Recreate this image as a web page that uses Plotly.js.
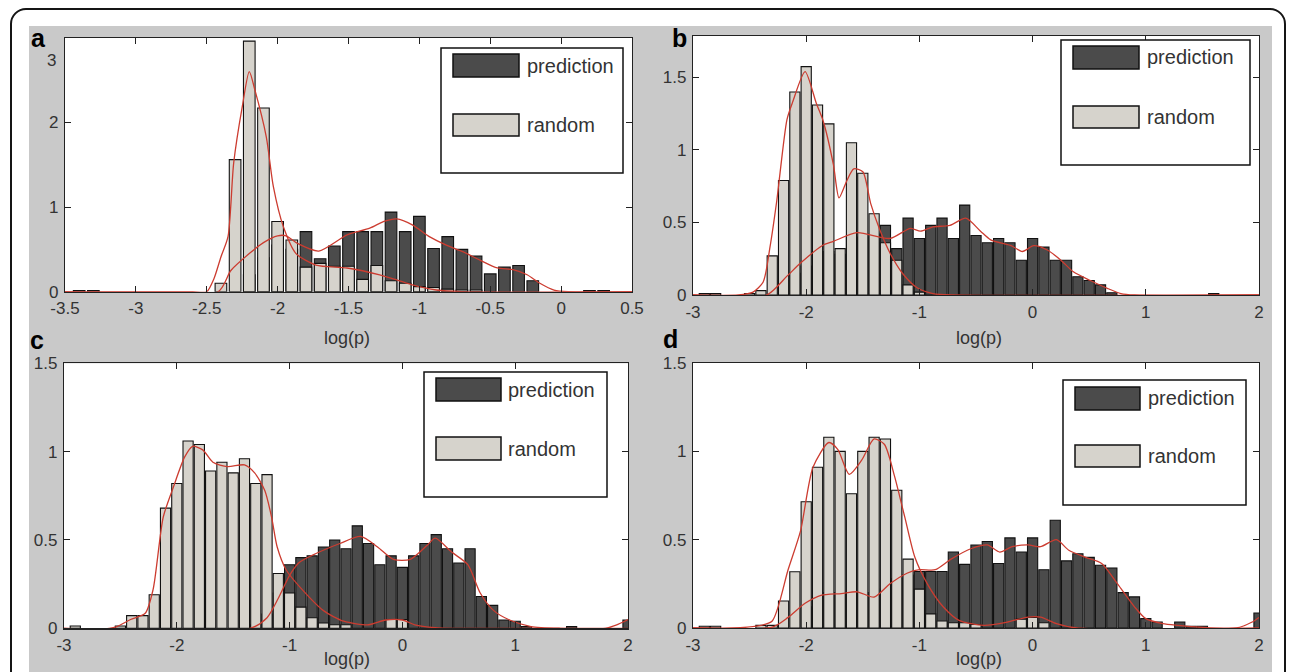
<!DOCTYPE html>
<html>
<head>
<meta charset="utf-8">
<script src="https://cdn.plot.ly/plotly-3.0.1.min.js"></script>
<style>
  html, body { margin:0; padding:0; width:1290px; height:672px; overflow:hidden; background:#ffffff; }
  #frame { position:absolute; left:10px; top:8px; width:1272px; height:700px; border:2px solid #151515; border-radius:16px; }
  #gray { position:absolute; left:29px; top:26px; width:1243px; height:646px; background:#c9c9c9; }
  #plot { position:absolute; left:0; top:0; width:1290px; height:672px; }
</style>
</head>
<body>
<div id="frame"></div>
<div id="gray"></div>
<div id="plot"></div>
<script>
// ---------------- DATA ----------------
const seriesNames = ["prediction", "random"];
const xLabel = "log(p)";
const panelLetters = ["a", "b", "c", "d"];

// x tick labels
const xTicksA = [-3.5, -3, -2.5, -2, -1.5, -1, -0.5, 0, 0.5];
const xTickTextA = ["-3.5", "-3", "-2.5", "-2", "-1.5", "-1", "-0.5", "0", "0.5"];
const xTicksBCD = [-3, -2, -1, 0, 1, 2];
const xTickTextBCD = ["-3", "-2", "-1", "0", "1", "2"];
// y tick labels
const yTicksA = [0, 1, 2];
const yTickTextA = ["0", "1", "2"];
const yTopLabelA = "3";
const yTicksBCD = [0, 0.5, 1, 1.5];
const yTickTextBCD = ["0", "0.5", "1", "1.5"];

// Panel a histograms
const aRandX = [-3.4,-3.3,-2.4,-2.3,-2.2,-2.1,-2.0,-1.9,-1.8,-1.7,-1.6,-1.5,-1.4,-1.3,-1.2,-1.1,-1.0,-0.9,-0.8,-0.7,-0.6];
const aRandY = [0.015,0.015,0.10,1.56,2.96,2.17,0.83,0.61,0.29,0.335,0.30,0.30,0.146,0.31,0.13,0.10,0.06,0.05,0.03,0.02,0.02];
const aPredX = [-2.2,-2.1,-2.0,-1.9,-1.8,-1.7,-1.6,-1.5,-1.4,-1.3,-1.2,-1.1,-1.0,-0.9,-0.8,-0.7,-0.6,-0.5,-0.4,-0.3,-0.2,0.2,0.3];
const aPredY = [0.2,0.4,0.55,0.5,0.71,0.39,0.54,0.71,0.71,0.71,0.94,0.71,0.89,0.51,0.65,0.50,0.42,0.21,0.29,0.31,0.13,0.015,0.015];
// Panel a density curves
const aRandCurveX = [-3.5,-2.6,-2.5,-2.45,-2.40,-2.35,-2.31,-2.25,-2.20,-2.16,-2.08,-2.03,-1.96,-1.87,-1.73,-1.51,-1.28,-1.16,-1.05,-0.88,-0.7,0.5];
const aRandCurveY = [0,0,0,0.15,0.41,0.65,1.52,2.18,2.60,2.38,1.83,1.24,0.77,0.45,0.315,0.28,0.2,0.14,0.08,0.02,0,0];
const aPredCurveX = [-3.5,-2.42,-2.33,-2.2,-2.1,-2.0,-1.94,-1.86,-1.71,-1.51,-1.35,-1.25,-1.16,-1.05,-0.93,-0.81,-0.69,-0.57,-0.45,-0.34,-0.24,-0.15,-0.05,0.05,0.5];
const aPredCurveY = [0,0,0.25,0.45,0.58,0.66,0.66,0.57,0.48,0.67,0.75,0.83,0.86,0.79,0.65,0.55,0.47,0.37,0.28,0.26,0.20,0.10,0.02,0,0];

// Panel b histograms
const bRandX = [-2.9,-2.8,-2.5,-2.4,-2.3,-2.2,-2.1,-2.0,-1.9,-1.8,-1.7,-1.6,-1.5,-1.4,-1.3,-1.2,-1.1,-1.0];
const bRandY = [0.01,0.01,0.01,0.03,0.27,0.79,1.40,1.575,1.31,1.18,0.32,1.05,0.84,0.56,0.36,0.24,0.07,0.02];
const bPredX = [-2.2,-2.1,-2.0,-1.9,-1.8,-1.7,-1.6,-1.5,-1.4,-1.3,-1.2,-1.1,-1.0,-0.9,-0.8,-0.7,-0.6,-0.5,-0.4,-0.3,-0.2,-0.1,0.0,0.1,0.2,0.3,0.4,0.5,0.6,0.7,1.6];
const bPredY = [0.1,0.15,0.2,0.3,0.3,0.28,0.4,0.4,0.42,0.48,0.32,0.53,0.39,0.48,0.53,0.39,0.62,0.41,0.36,0.39,0.36,0.24,0.39,0.33,0.24,0.24,0.126,0.10,0.07,0.016,0.01];
// Panel b density curves
const bRandCurveX = [-3,-2.6,-2.47,-2.38,-2.32,-2.26,-2.17,-2.12,-2.01,-1.91,-1.85,-1.76,-1.71,-1.64,-1.58,-1.50,-1.43,-1.35,-1.26,-1.15,-1.02,-0.88,-0.7,2];
const bRandCurveY = [0,0,0.02,0.09,0.33,0.65,1.21,1.33,1.54,1.32,1.20,0.90,0.67,0.79,0.87,0.85,0.63,0.45,0.29,0.15,0.05,0.01,0,0];
const bPredCurveX = [-3,-2.35,-2.17,-2.05,-1.86,-1.76,-1.55,-1.26,-1.08,-0.99,-0.88,-0.73,-0.59,-0.46,-0.37,-0.19,-0.09,0.01,0.13,0.25,0.36,0.51,0.66,0.78,0.9,2];
const bPredCurveY = [0,0,0.13,0.22,0.34,0.37,0.43,0.39,0.46,0.44,0.47,0.48,0.53,0.44,0.38,0.34,0.30,0.34,0.31,0.24,0.16,0.10,0.046,0.01,0,0];

// Panel c histograms
const cRandX = [-2.9,-2.5,-2.4,-2.3,-2.2,-2.1,-2.0,-1.9,-1.8,-1.7,-1.6,-1.5,-1.4,-1.3,-1.2,-1.1,-1.0,-0.9,-0.8,-0.7,-0.6,-0.5,-0.1,0.0];
const cRandY = [0.013,0.013,0.072,0.072,0.19,0.68,0.82,1.06,1.04,0.89,0.94,0.88,0.96,0.82,0.87,0.31,0.20,0.12,0.06,0.03,0.02,0.02,0.05,0.05];
const cPredX = [-1.3,-1.2,-1.1,-1.0,-0.9,-0.8,-0.7,-0.6,-0.5,-0.4,-0.3,-0.2,-0.1,0.0,0.1,0.2,0.3,0.4,0.5,0.6,0.7,0.8,0.9,1.0,1.1,1.5,2.0];
const cPredY = [0.02,0.08,0.2,0.36,0.40,0.41,0.46,0.50,0.45,0.58,0.48,0.36,0.41,0.345,0.41,0.48,0.53,0.45,0.37,0.45,0.18,0.13,0.047,0.04,0.01,0.01,0.047];
// Panel c density curves
const cRandCurveX = [-3,-2.6,-2.53,-2.41,-2.28,-2.21,-2.12,-2.03,-1.93,-1.86,-1.77,-1.68,-1.55,-1.40,-1.31,-1.22,-1.16,-1.11,-1.03,-0.89,-0.70,-0.52,-0.30,-0.15,0.0,0.11,0.29,0.45,2];
const cRandCurveY = [0,0,0.01,0.05,0.085,0.22,0.63,0.80,0.97,1.03,1.01,0.94,0.915,0.925,0.88,0.78,0.63,0.46,0.33,0.22,0.10,0.04,0.02,0.047,0.047,0.02,0.004,0,0];
const cPredCurveX = [-3,-1.35,-1.2,-1.1,-1.0,-0.92,-0.81,-0.555,-0.37,-0.22,-0.08,0.07,0.22,0.29,0.44,0.58,0.69,0.81,0.95,1.14,1.4,1.8,1.9,2.0];
const cPredCurveY = [0,0,0.06,0.17,0.30,0.37,0.41,0.48,0.52,0.46,0.39,0.39,0.47,0.51,0.43,0.36,0.20,0.10,0.047,0.01,0,0,0.02,0.05];

// Panel d histograms
const dRandX = [-2.9,-2.8,-2.4,-2.3,-2.2,-2.1,-2.0,-1.9,-1.8,-1.7,-1.6,-1.5,-1.4,-1.3,-1.2,-1.1,-1.0,-0.9,-0.8,-0.7,-0.6,-0.5,-0.1,0.0,0.1];
const dRandY = [0.01,0.01,0.015,0.015,0.153,0.318,0.715,0.91,1.08,1.0,0.76,1.0,1.08,1.07,0.78,0.39,0.22,0.08,0.04,0.03,0.03,0.02,0.05,0.06,0.03];
const dPredX = [-2.0,-1.9,-1.8,-1.7,-1.6,-1.5,-1.4,-1.3,-1.2,-1.1,-1.0,-0.9,-0.8,-0.7,-0.6,-0.5,-0.4,-0.3,-0.2,-0.1,0.0,0.1,0.2,0.3,0.4,0.5,0.6,0.7,0.8,0.9,1.0,1.1,1.3,1.4,1.5,2.0];
const dPredY = [0.12,0.18,0.2,0.2,0.2,0.2,0.2,0.22,0.28,0.3,0.32,0.32,0.32,0.43,0.36,0.47,0.49,0.365,0.51,0.43,0.51,0.33,0.61,0.38,0.42,0.40,0.355,0.34,0.20,0.176,0.053,0.034,0.034,0.01,0.01,0.085];
// Panel d density curves
const dRandCurveX = [-3,-2.66,-2.44,-2.30,-2.16,-2.05,-1.94,-1.80,-1.72,-1.62,-1.51,-1.40,-1.31,-1.22,-1.13,-1.04,-0.93,-0.79,-0.65,-0.43,-0.22,-0.04,0.07,0.21,0.39,2];
const dRandCurveY = [0,0,0.01,0.04,0.33,0.55,0.91,1.05,1.01,0.87,0.95,1.07,1.04,0.86,0.63,0.40,0.25,0.12,0.043,0.015,0.034,0.062,0.062,0.025,0,0];
const dPredCurveX = [-3,-2.3,-2.16,-2.01,-1.87,-1.69,-1.55,-1.40,-1.26,-1.11,-1.0,-0.86,-0.72,-0.54,-0.40,-0.29,-0.18,-0.04,0.07,0.21,0.32,0.47,0.61,0.75,0.90,1.0,1.15,1.29,1.47,1.80,1.94,2.0];
const dPredCurveY = [0,0.005,0.06,0.14,0.185,0.195,0.205,0.175,0.25,0.31,0.33,0.33,0.39,0.45,0.47,0.43,0.46,0.47,0.46,0.50,0.44,0.40,0.365,0.25,0.12,0.053,0.025,0.015,0.005,0,0.034,0.06];

// ---------------- STYLE / LAYOUT ----------------
const W = 1290, H = 672;
const FONT = "Liberation Sans, Arial, Helvetica, sans-serif";
const PRED_COLOR = "#4b4b4b";
const RAND_COLOR = "#d6d3cc";
const CURVE_COLOR = "#cc3c30";
const px = v => v / W;
const py = v => 1 - v / H;

const panels = [
  { key: "", box: [65, 37.7, 632, 291.7], xr: [-3.5, 0.5], yr: [0, 3], barW: 0.082,
    xt: xTicksA, xtt: xTickTextA, yt: yTicksA, ytt: yTickTextA,
    pred: [aPredX, aPredY], rand: [aRandX, aRandY],
    predC: [aPredCurveX, aPredCurveY], randC: [aRandCurveX, aRandCurveY],
    legend: { box: [441, 48, 623, 173], sw: [453, 519], r1: [54, 77], r2: [114, 136], tx: 525 },
    letter: [38, 38], xlab: [347, 338] },
  { key: "2", box: [693, 36, 1259, 295], xr: [-3, 2], yr: [0, 1.786], barW: 0.09,
    xt: xTicksBCD, xtt: xTickTextBCD, yt: yTicksBCD, ytt: yTickTextBCD,
    pred: [bPredX, bPredY], rand: [bRandX, bRandY],
    predC: [bPredCurveX, bPredCurveY], randC: [bRandCurveX, bRandCurveY],
    legend: { box: [1061, 40, 1250, 165], sw: [1073, 1139], r1: [46, 69], r2: [106, 128], tx: 1145 },
    letter: [679, 38], xlab: [979, 338] },
  { key: "3", box: [64, 363.3, 628, 628.3], xr: [-3, 2], yr: [0, 1.5], barW: 0.09,
    xt: xTicksBCD, xtt: xTickTextBCD, yt: yTicksBCD, ytt: yTickTextBCD,
    pred: [cPredX, cPredY], rand: [cRandX, cRandY],
    predC: [cPredCurveX, cPredCurveY], randC: [cRandCurveX, cRandCurveY],
    legend: { box: [424, 372, 607, 497], sw: [436, 501], r1: [378, 401], r2: [437, 460], tx: 506 },
    letter: [37, 340], xlab: [347, 659] },
  { key: "4", box: [693, 363, 1259, 628], xr: [-3, 2], yr: [0, 1.5], barW: 0.09,
    xt: xTicksBCD, xtt: xTickTextBCD, yt: yTicksBCD, ytt: yTickTextBCD,
    pred: [dPredX, dPredY], rand: [dRandX, dRandY],
    predC: [dPredCurveX, dPredCurveY], randC: [dRandCurveX, dRandCurveY],
    legend: { box: [1063, 380, 1246, 505], sw: [1075, 1140], r1: [387, 410], r2: [445, 467], tx: 1146 },
    letter: [670, 339], xlab: [979, 659] }
];

const traces = [];
const layout = {
  width: W, height: H,
  margin: { l: 0, r: 0, t: 0, b: 0 },
  paper_bgcolor: "rgba(0,0,0,0)",
  plot_bgcolor: "#ffffff",
  barmode: "overlay",
  showlegend: false,
  font: { family: FONT, color: "#333333", size: 17 },
  shapes: [],
  annotations: []
};

panels.forEach((p, i) => {
  const xa = "x" + p.key, ya = "y" + p.key;
  const [l, t, r, b] = p.box;
  layout["xaxis" + p.key] = {
    domain: [px(l), px(r)], range: p.xr, anchor: ya,
    showgrid: false, zeroline: false, showline: true, linecolor: "#222", linewidth: 1.2,
    mirror: "ticks", ticks: "inside", ticklen: 6, tickwidth: 1, tickcolor: "#222",
    tickmode: "array", tickvals: p.xt, ticktext: p.xtt, ticklabelstandoff: 1,
    tickfont: { family: FONT, size: 17, color: "#333" }, fixedrange: true
  };
  layout["yaxis" + p.key] = {
    domain: [py(b), py(t)], range: p.yr, anchor: xa,
    showgrid: false, zeroline: false, showline: true, linecolor: "#222", linewidth: 1.2,
    mirror: "ticks", ticks: "inside", ticklen: 6, tickwidth: 1, tickcolor: "#222",
    tickmode: "array", tickvals: p.yt, ticktext: p.ytt, ticklabelstandoff: 2,
    tickfont: { family: FONT, size: 17, color: "#333" }, fixedrange: true
  };
  traces.push({ type: "bar", name: seriesNames[0], x: p.pred[0], y: p.pred[1], width: p.barW,
    marker: { color: PRED_COLOR, line: { color: "#111", width: 1.1 } }, xaxis: xa, yaxis: ya, hoverinfo: "skip" });
  traces.push({ type: "bar", name: seriesNames[1], x: p.rand[0], y: p.rand[1], width: p.barW,
    marker: { color: RAND_COLOR, line: { color: "#111", width: 1.1 } }, xaxis: xa, yaxis: ya, hoverinfo: "skip" });
  traces.push({ type: "scatter", mode: "lines", x: p.predC[0], y: p.predC[1], xaxis: xa, yaxis: ya,
    line: { color: CURVE_COLOR, width: 1.3, shape: "spline", smoothing: 0.7 }, hoverinfo: "skip" });
  traces.push({ type: "scatter", mode: "lines", x: p.randC[0], y: p.randC[1], xaxis: xa, yaxis: ya,
    line: { color: CURVE_COLOR, width: 1.3, shape: "spline", smoothing: 0.7 }, hoverinfo: "skip" });

  // legend box
  const L = p.legend;
  layout.shapes.push({ type: "rect", xref: "paper", yref: "paper",
    x0: px(L.box[0]), x1: px(L.box[2]), y0: py(L.box[3]), y1: py(L.box[1]),
    line: { color: "#111", width: 1.5 }, fillcolor: "#ffffff" });
  layout.shapes.push({ type: "rect", xref: "paper", yref: "paper",
    x0: px(L.sw[0]), x1: px(L.sw[1]), y0: py(L.r1[1]), y1: py(L.r1[0]),
    line: { color: "#111", width: 1.5 }, fillcolor: PRED_COLOR });
  layout.shapes.push({ type: "rect", xref: "paper", yref: "paper",
    x0: px(L.sw[0]), x1: px(L.sw[1]), y0: py(L.r2[1]), y1: py(L.r2[0]),
    line: { color: "#111", width: 1.5 }, fillcolor: RAND_COLOR });
  layout.annotations.push({ xref: "paper", yref: "paper", x: px(L.tx), y: py((L.r1[0] + L.r1[1]) / 2),
    text: seriesNames[0], showarrow: false, xanchor: "left", yanchor: "middle",
    font: { family: FONT, size: 20, color: "#333" } });
  layout.annotations.push({ xref: "paper", yref: "paper", x: px(L.tx), y: py((L.r2[0] + L.r2[1]) / 2),
    text: seriesNames[1], showarrow: false, xanchor: "left", yanchor: "middle",
    font: { family: FONT, size: 20, color: "#333" } });

  // panel letter
  layout.annotations.push({ xref: "paper", yref: "paper", x: px(p.letter[0]), y: py(p.letter[1]),
    text: "<b>" + panelLetters[i] + "</b>", showarrow: false, xanchor: "center", yanchor: "middle",
    font: { family: FONT, size: 25, color: "#000" } });
  // x label
  layout.annotations.push({ xref: "paper", yref: "paper", x: px(p.xlab[0]), y: py(p.xlab[1]),
    text: xLabel, showarrow: false, xanchor: "center", yanchor: "middle",
    font: { family: FONT, size: 18, color: "#333" } });
});

// panel a top y label (drawn lower in the reference)
layout.annotations.push({ xref: "paper", yref: "paper", x: px(51), y: py(60),
  text: yTopLabelA, showarrow: false, xanchor: "center", yanchor: "middle",
  font: { family: FONT, size: 17, color: "#333" } });

Plotly.newPlot("plot", traces, layout, { displayModeBar: false, staticPlot: true });
</script>
</body>
</html>
